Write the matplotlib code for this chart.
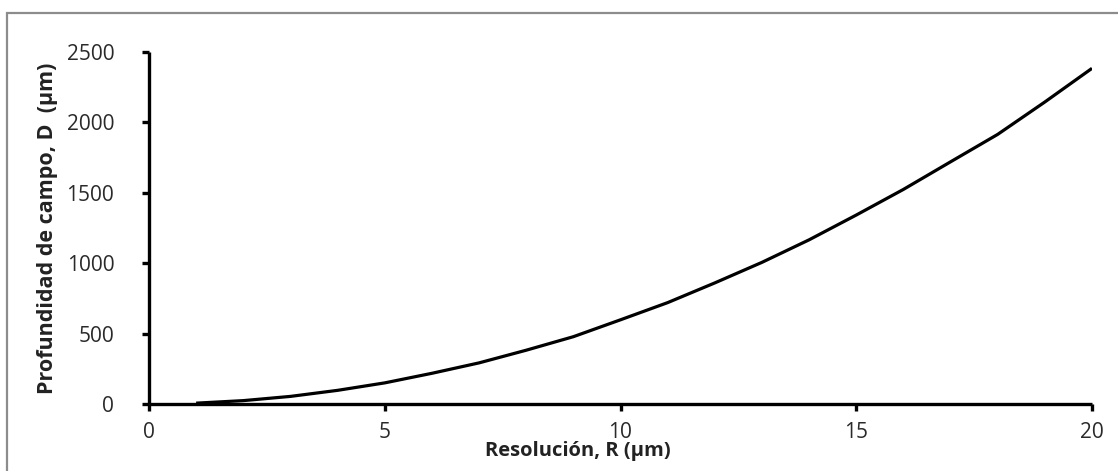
import matplotlib
matplotlib.use("Agg")
import matplotlib.pyplot as plt
from matplotlib.patches import Rectangle

# Data
resolution_um = [1, 2, 3, 4, 5, 6, 7, 8, 9, 10, 11, 12, 13, 14, 15, 16, 17, 18, 19, 20]
depth_um = [6, 24, 54, 97, 150, 218, 292, 382, 478, 598, 720, 860, 1006, 1166, 1342, 1524, 1720, 1915, 2145, 2384]
x_ticks = [0, 5, 10, 15, 20]
y_ticks = [0, 500, 1000, 1500, 2000, 2500]

W, H, DPI = 1118, 471, 100
fig = plt.figure(figsize=(W / DPI, H / DPI), dpi=DPI)
fig.patch.set_facecolor("white")

# outer gray frame (cut off at right and bottom as in the reference)
fig.patches.append(Rectangle((7 / W, -0.05), 1.2, 1 - 13 / H + 0.05,
                             transform=fig.transFigure, fill=False,
                             edgecolor="#8c8c8c", linewidth=1.6))

left, right, top, bottom = 149, 1092, 52, 404
ax = fig.add_axes([left / W, 1 - bottom / H, (right - left) / W, (bottom - top) / H])

ax.plot(resolution_um, depth_um, color="black", linewidth=2.3, solid_capstyle="butt")

ax.set_xlim(0, 20)
ax.set_ylim(0, 2500)
ax.set_xticks(x_ticks)
ax.set_yticks(y_ticks)

for s in ["top", "right"]:
    ax.spines[s].set_visible(False)
for s in ["left", "bottom"]:
    ax.spines[s].set_linewidth(2.4)
    ax.spines[s].set_color("black")
    ax.spines[s].set_capstyle("butt")

tick_font = "Open Sans"
ax.tick_params(axis="both", direction="out", length=5, width=2.4, color="black",
               labelsize=15, labelcolor="#2a2a2a")
ax.tick_params(axis="x", pad=8)
ax.tick_params(axis="y", pad=20)
for lab in ax.get_xticklabels() + ax.get_yticklabels():
    lab.set_fontfamily(tick_font)

ax.set_xlabel("Resolución, R (µm)", fontsize=14.5, fontweight="bold",
              fontfamily=tick_font, color="#222222")
ax.xaxis.set_label_coords((578 - left) / (right - left), -(451 - bottom) / (bottom - top), transform=ax.transAxes)
ax.xaxis.label.set_va("center")
ax.set_ylabel("Profundidad de campo, D  (µm)", fontsize=15.5, fontweight="bold",
              fontfamily=tick_font, color="#222222")
ax.yaxis.set_label_coords(-(left - 48) / (right - left), 0.5)
ax.yaxis.label.set_va("center")

fig.savefig("out.png", dpi=DPI, facecolor="white")
